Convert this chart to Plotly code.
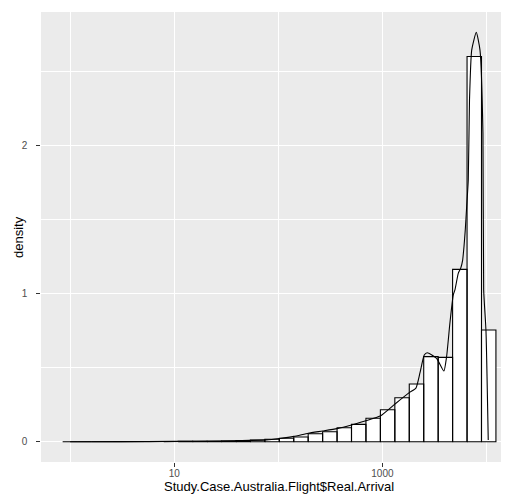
import numpy as np
import plotly.graph_objects as go

# ---- histogram (30 bins, equal width on log10 scale) ----
bin_first_edge = 0.847     # Real.Arrival at left edge of first bin
bin_last_edge = 12330      # Real.Arrival at right edge of last bin
n_bins = 30
hist_density = [0, 0, 0, 0, 0, 0.0005, 0.001, 0.001, 0.002, 0.002,
                0.003, 0.005, 0.007, 0.011, 0.017, 0.023, 0.032, 0.054, 0.067, 0.094,
                0.117, 0.158, 0.216, 0.297, 0.389, 0.574, 0.569, 1.163, 2.60, 0.754]

# ---- kernel density curve ----
curve_x = [1, 3, 10, 27, 53, 77, 103, 141, 194, 266, 367, 505, 694, 952, 1319,
           1811, 2100, 2295, 2525, 2698, 3319, 3900, 4140, 4454, 4794, 4977, 5358,
           5649, 5906, 6081, 6255, 6453, 6686, 6870, 7213, 7982, 8665, 9250, 9400,
           9887, 10400]
curve_density = [0, 0.0005, 0.002, 0.005, 0.009, 0.012, 0.022, 0.036, 0.057, 0.072, 0.088,
                 0.113, 0.142, 0.173, 0.254, 0.331, 0.362, 0.464, 0.585, 0.600, 0.563,
                 0.477, 0.574, 0.801, 0.99, 1.024, 1.136, 1.170, 1.226, 1.316, 1.428,
                 1.586, 1.766, 2.306, 2.643, 2.763, 2.643, 2.083, 1.024, 0.754, 0.011]

x_tick_vals = [10, 1000]
x_tick_text = ["10", "1000"]
x_minor_vals = [1, 100, 10000]
y_tick_vals = [0, 1, 2]
y_tick_text = ["0", "1", "2"]
y_minor_vals = [0.5, 1.5, 2.5]

x_label = "Study.Case.Australia.Flight$Real.Arrival"
y_label = "density"

edges = np.logspace(np.log10(bin_first_edge), np.log10(bin_last_edge), n_bins + 1)
bx, by = [], []
for i, h in enumerate(hist_density):
    l, r = edges[i], edges[i + 1]
    bx += [l, l, r, r, l, None]
    by += [0, h, h, 0, 0, None]

fig = go.Figure()
fig.add_trace(go.Scatter(x=bx, y=by, mode="lines", fill="toself", fillcolor="white",
                         line=dict(color="black", width=1.1), hoverinfo="skip",
                         showlegend=False))
fig.add_trace(go.Scatter(x=curve_x, y=curve_density, mode="lines", line_shape="spline",
                         line=dict(color="black", width=1.1, smoothing=0.5), showlegend=False))

FONT = "Liberation Sans, Arial, sans-serif"
# the page body has an 8px margin, so the figure is 8px smaller and offsets reduced
fig.update_layout(
    width=501, height=489,
    margin=dict(l=33, r=0, t=4, b=35),
    paper_bgcolor="white", plot_bgcolor="#EBEBEB",
    font=dict(family=FONT, size=10, color="#4D4D4D"),
    showlegend=False,
    annotations=[
        dict(text=x_label, xref="paper", yref="paper", x=0.5075, y=-0.0545,
             xanchor="center", yanchor="middle", showarrow=False,
             font=dict(family=FONT, size=13, color="black")),
        dict(text=y_label, xref="paper", yref="paper", x=-0.0492, y=0.5,
             xanchor="center", yanchor="middle", showarrow=False, textangle=-90,
             font=dict(family=FONT, size=13, color="black")),
    ],
)
fig.update_xaxes(type="log", range=[-0.28, 4.2165], tickvals=x_tick_vals, ticktext=x_tick_text,
                 showgrid=True, gridcolor="white", gridwidth=1.4, zeroline=False,
                 ticks="outside", ticklen=3.7, tickwidth=1.1, tickcolor="#333333",
                 showline=False, ticklabelstandoff=-2,
                 minor=dict(tickvals=x_minor_vals, showgrid=True, gridcolor="white",
                            gridwidth=0.7, ticks=""))
fig.update_yaxes(range=[-0.137, 2.90], tickvals=y_tick_vals, ticktext=y_tick_text,
                 showgrid=True, gridcolor="white", gridwidth=1.4, zeroline=False,
                 ticks="outside", ticklen=3.7, tickwidth=1.1, tickcolor="#333333",
                 showline=False, ticklabelstandoff=7,
                 minor=dict(tickvals=y_minor_vals, showgrid=True, gridcolor="white",
                            gridwidth=0.7, ticks=""))

fig.write_html("out.html")
